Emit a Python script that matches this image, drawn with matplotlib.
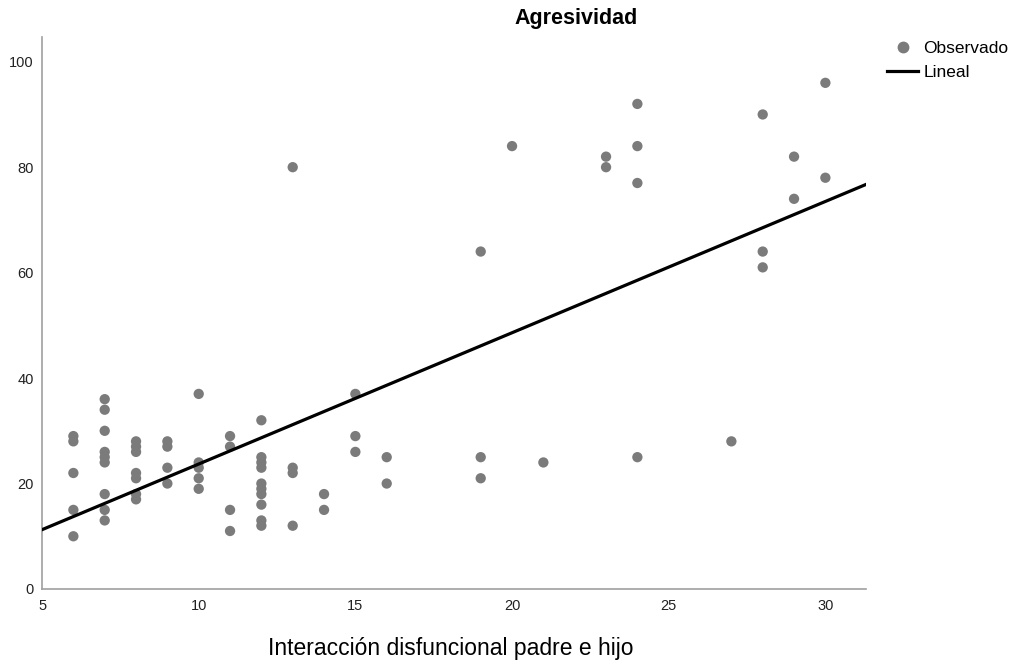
import numpy as np
import matplotlib
matplotlib.use('Agg')
import matplotlib.pyplot as plt
from matplotlib.lines import Line2D

plt.rcParams['font.family'] = ['Liberation Sans', 'DejaVu Sans']

# puntos observados, agrupados por valor de x
x_vals = [6, 7, 8, 9, 10, 11, 12, 13, 14, 15, 16,
          19, 20, 21, 23, 24, 27, 28, 29, 30]
y_groups = [
    [29, 28, 22, 15, 10],
    [36, 34, 30, 26, 25, 24, 18, 15, 13],
    [28, 27, 26, 22, 21, 18, 17],
    [28, 27, 23, 20],
    [37, 24, 23, 21, 19],
    [29, 27, 15, 11],
    [32, 25, 24, 23, 20, 19, 18, 16, 13, 12],
    [80, 23, 22, 12],
    [18, 15],
    [37, 29, 26],
    [25, 20],
    [64, 25, 21],
    [84],
    [24],
    [82, 80],
    [92, 84, 77, 25],
    [28],
    [90, 64, 61],
    [82, 74],
    [96, 78],
]

# recta lineal
intercept = -1.2
slope = 2.49

xs = np.concatenate([[x] * len(g) for x, g in zip(x_vals, y_groups)])
ys = np.concatenate(y_groups)

fig = plt.figure(figsize=(10.13, 6.6), dpi=100)
ax = fig.add_axes([0.0415, 0.1076, 0.8135, 0.8364])

dot_color = '#7b7b7b'
ax.scatter(xs, ys, s=55, color=dot_color, edgecolors='none', zorder=3)

x_min, x_max = 5, 31.3
line_x = np.array([x_min, x_max])
ax.plot(line_x, intercept + slope * line_x, color='black', lw=2.3, zorder=4)

ax.set_xlim(x_min, x_max)
ax.set_ylim(0, 104.7)
ax.set_xticks([5, 10, 15, 20, 25, 30])
ax.set_yticks([0, 20, 40, 60, 80, 100])
ax.tick_params(length=0, labelsize=10.5, colors='#222222', pad=7)
ax.tick_params(axis='y', pad=6)

for side in ['top', 'right']:
    ax.spines[side].set_visible(False)
for side in ['left', 'bottom']:
    ax.spines[side].set_color('#a0a0a0')
    ax.spines[side].set_linewidth(1.2)

fig.text(0.569, 0.972, 'Agresividad', ha='center', va='center',
         fontsize=15.5, fontweight='bold')
fig.text(0.445, 0.018, 'Interacción disfuncional padre e hijo',
         ha='center', va='center', fontsize=16.5)

handles = [
    Line2D([], [], marker='o', ls='none', color=dot_color, markersize=7.5),
    Line2D([], [], color='black', lw=2.3),
]
fig.legend(handles, ['Observado', 'Lineal'], loc='upper left',
           bbox_to_anchor=(0.8756, 0.938), frameon=False, fontsize=12.5,
           handlelength=1.8, handletextpad=0.3, borderaxespad=0,
           borderpad=0, labelspacing=0.5)

fig.savefig('out.png', dpi=100)
